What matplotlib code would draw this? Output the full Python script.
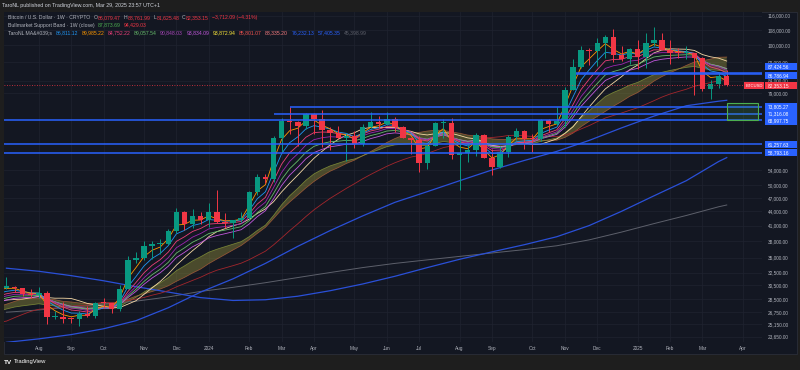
import numpy as np
import pandas as pd
import matplotlib
matplotlib.use("Agg")
import matplotlib.pyplot as plt
import matplotlib.dates as mdates
from matplotlib.patches import Rectangle
from matplotlib.ticker import NullLocator

plt.rcParams['font.family'] = ['Liberation Sans', 'DejaVu Sans']

# ============================================================
# DATA  (BTCUSD weekly candles)
# ============================================================
first_bar = "2023-07-10"

opens = [30170, 30230, 30080, 29200, 29050, 29300, 26050, 26100, 25850, 25830,
         26530, 26250, 27950, 27900, 27150, 30000, 34500, 35000, 37050, 37400,
         37450, 39950, 43800, 41400, 42950, 42200, 43950, 41750, 41550, 42050,
         42580, 48300, 52100, 51700, 63100, 68900, 68400, 67200, 71300, 69400,
         65700, 64950, 63100, 63900, 61500, 66900, 68500, 67750, 69650, 66650,
         63200, 62700, 55850, 60800, 68200, 68250, 58150, 58700, 59500, 64200,
         57300, 54900, 59100, 63550, 65600, 62900, 62850, 69000, 67900, 68750,
         80400, 89850, 97900, 97200, 101100, 104500, 95200, 93750, 98300, 94500,
         101300, 102650, 97700, 96450, 96150, 96250, 94200, 80700, 82600, 86079]
highs = [31800, 30350, 30100, 29950, 30250, 29650, 26800, 28150, 26100, 26900,
         27480, 28050, 28600, 28000, 30500, 35200, 35900, 38000, 37950, 38450,
         40250, 44700, 44000, 44400, 43800, 45900, 49000, 43550, 42250, 43850,
         48600, 52800, 52950, 64000, 70000, 73800, 68900, 71700, 71500, 72800,
         66900, 67200, 64700, 65500, 67700, 71950, 70650, 71950, 70150, 67200,
         63400, 63800, 61400, 68300, 69400, 70000, 62700, 61800, 64950, 64500,
         59800, 60700, 64200, 66500, 65650, 64400, 69400, 69500, 73600, 81500,
         93400, 99600, 98800, 104000, 105200, 108350, 99900, 98900, 102500, 106400,
         109500, 106500, 102500, 98800, 99500, 96500, 94400, 84100, 87500, 88762]
lows = [29950, 29500, 28900, 28600, 28700, 25200, 25800, 25350, 25350, 24900,
        26020, 26000, 27200, 26550, 26900, 29900, 34100, 34500, 34800, 35600,
        37200, 39500, 40200, 40500, 41300, 40750, 41500, 40500, 38500, 41800,
        42300, 47700, 50600, 50900, 59000, 64500, 60800, 66000, 64500, 60600,
        59700, 62800, 56500, 60200, 60800, 66600, 66600, 67600, 65000, 63400,
        58400, 53500, 54300, 60650, 63400, 57100, 49000, 56100, 57800, 57200,
        52550, 54600, 57600, 62700, 59800, 58900, 62450, 65100, 67500, 66800,
        80200, 89400, 90700, 90500, 94100, 92200, 92600, 91200, 89200, 89300,
        99600, 97800, 91200, 94100, 93400, 78200, 80000, 76600, 81200, 81625]
closes = [30230, 30080, 29200, 29050, 29300, 26050, 26100, 25850, 25830, 26530,
          26250, 27950, 27900, 27150, 30000, 34500, 35000, 37050, 37400, 37450,
          39950, 43800, 41400, 42950, 42200, 43950, 41750, 41550, 42050, 42580,
          48300, 52100, 51700, 63100, 68900, 68400, 67200, 71300, 69400, 65700,
          64950, 63100, 63900, 61500, 66900, 68500, 67750, 69650, 66650, 63200,
          62700, 55850, 60800, 68200, 68250, 58150, 58700, 59500, 64200, 57300,
          54900, 59100, 63550, 65600, 62900, 62850, 69000, 67900, 68750, 80400,
          89850, 97900, 97200, 101100, 104500, 95200, 93750, 98300, 94500, 101300,
          102650, 97700, 96450, 96150, 96250, 94200, 80700, 82600, 86080, 82353]

# weekly closes before the first visible bar (warm-up for the moving averages)
hist_close = [16840, 16540, 17130, 20880, 22710, 23770, 22930, 21780, 24640, 23560,
              22430, 22150, 28040, 27990, 28470, 28330, 30320, 27590, 29250, 28450,
              26930, 26750, 28070, 27230, 25840, 26340, 30480, 30590, 30170]

# long moving averages, read every 4th week off the chart
long_ma_bars = [0, 4, 8, 12, 16, 20, 24, 28, 32, 36, 40, 44, 48, 52, 56, 60,
                64, 68, 72, 76, 80, 84, 88, 89]
ma50w = [23000, 23400, 23900, 24600, 25600, 27300, 29500, 31500, 34000, 37000,
         40000, 43000, 46000, 48500, 51200, 54000, 56600, 59200, 62500, 66500,
         70500, 74200, 75900, 76232]
ma100w = [33200, 32700, 32000, 31200, 30300, 29500, 28700, 28300, 28400, 28900,
          29700, 30700, 31900, 33300, 34700, 36000, 37300, 38800, 41000, 44000,
          47500, 51200, 56300, 57405]
ma200w = [26700, 27000, 27400, 27800, 28200, 28800, 29600, 30200, 30900, 31700,
          32500, 33300, 34000, 34600, 35200, 35800, 36400, 37100, 38200, 39700,
          41400, 43100, 45000, 45399]

# drawn levels
levels = [87424.56, 86786.94, 73805.27, 71316.08, 68997.75, 61257.63, 58793.16]
level_from = ["2024-11-14", "2024-11-14", "2024-03-11", "2024-02-26", None, None, None]
zone_low, zone_high = 68997.75, 75100
zone_from, zone_to = "2025-03-24", "2025-04-20"
last_price = 82353.15

price_ticks = [116000, 108000, 100000, 92000, 84000, 79000, 54000, 50000, 47000,
               44000, 41000, 38000, 35000, 32500, 30500, 28500, 26750, 25150, 23650]
month_ticks = ["2023-08-07", "2023-09-04", "2023-10-02", "2023-11-06", "2023-12-04",
               "2024-01-01", "2024-02-05", "2024-03-04", "2024-04-01", "2024-05-06",
               "2024-06-03", "2024-07-01", "2024-08-05", "2024-09-02", "2024-10-07",
               "2024-11-04", "2024-12-02", "2025-01-06", "2025-02-03", "2025-03-03",
               "2025-04-07"]
month_labels = ["Aug", "Sep", "Oct", "Nov", "Dec", "2024", "Feb", "Mar", "Apr", "May",
                "Jun", "Jul", "Aug", "Sep", "Oct", "Nov", "Dec", "2025", "Feb", "Mar", "Apr"]

# ============================================================
# MOVING AVERAGES
# ============================================================
n_hist = len(hist_close)
all_close = pd.Series(hist_close + closes, dtype=float)
dates_all = pd.date_range(end=pd.Timestamp(first_bar), periods=n_hist + 1, freq="7D")[:-1]
dates_all = dates_all.append(pd.date_range(first_bar, periods=len(closes), freq="7D"))
xd_all = mdates.date2num(dates_all)
xd = xd_all[n_hist:]


def ma(kind, n):
    if kind == "sma":
        return all_close.rolling(n, min_periods=1).mean().values
    return all_close.ewm(span=n, adjust=False).mean().values


short_mas = [("sma", 30, "#a3262c"),
             ("sma", 12, "#f5d9a6"),
             ("ema", 13, "#c158dc"),
             ("ema", 11, "#66bb6a"),
             ("ema", 9, "#9c27b0"),
             ("ema", 7, "#ec407a"),
             ("ema", 5, "#2196f3"),
             ("ema", 3, "#ff9800")]

# ============================================================
# FIGURE
# ============================================================
W, H = 800, 370
BG = "#131722"
fig = plt.figure(figsize=(W / 100, H / 100), dpi=100, facecolor="#1e1e1e")
fig.patches.append(Rectangle((4 / W, 1 - 354 / H), 793 / W, 342 / H, transform=fig.transFigure,
                             facecolor=BG, edgecolor="#2a2e39", lw=0.6, zorder=-5))
ax = fig.add_axes([4 / W, 1 - 342 / H, 758 / W, 330 / H])
ax.set_facecolor(BG)
for s in ax.spines.values():
    s.set_visible(False)

ax.set_yscale("log")
ax.set_ylim(23040, 118028)
x_aug = mdates.date2num(pd.Timestamp("2023-08-07"))
px_day = 1.1562
ax.set_xlim(x_aug - 34.8 / px_day, x_aug + 723.2 / px_day)

# bull market support band
sma20 = ma("sma", 20)
ema21 = ma("ema", 21)
ax.fill_between(xd_all, sma20, ema21, color="#8e8a3a", alpha=0.45, lw=0, zorder=1)
ax.plot(xd_all, sma20, color="#b0603a", lw=0.55, alpha=0.8, zorder=1.5)
ax.plot(xd_all, ema21, color="#8a9a3a", lw=0.55, alpha=0.8, zorder=1.5)

# long MAs
xl = xd[long_ma_bars]
ax.plot(xl, ma200w, color="#5d606b", lw=0.7, zorder=2)
ax.plot(xl, ma100w, color="#2a50d8", lw=0.9, zorder=2)
ax.plot(xl, ma50w, color="#2a50d8", lw=0.9, zorder=2)

for kind, n, col in short_mas:
    ax.plot(xd_all, ma(kind, n), color=col, lw=0.6, zorder=2.5)

# candles
o = np.array(opens, float)
h = np.array(highs, float)
l = np.array(lows, float)
c = np.array(closes, float)
up = c >= o
cols = np.where(up, "#089981", "#f23645")
ax.vlines(xd, l, h, colors=cols, lw=0.7, zorder=3)
body = np.maximum(np.abs(c - o), np.minimum(o, c) * 0.006)
ax.bar(xd, body, bottom=np.minimum(o, c), width=4.7, color=cols, lw=0, zorder=3.5)

# levels
xmax = ax.get_xlim()[1]
for lv, fr in zip(levels, level_from):
    x0 = ax.get_xlim()[0] if fr is None else mdates.date2num(pd.Timestamp(fr))
    ax.hlines(lv, x0, xmax, color="#2962ff", lw=1.1, zorder=5)
ax.axhline(last_price, color="#f23645", lw=0.6, ls=(0, (1, 2)), zorder=4)
zx0 = mdates.date2num(pd.Timestamp(zone_from))
zx1 = mdates.date2num(pd.Timestamp(zone_to))
ax.add_patch(Rectangle((zx0, zone_low), zx1 - zx0, zone_high - zone_low,
                       facecolor=(0.3, 0.69, 0.31, 0.18), edgecolor="#4caf50", lw=0.8, zorder=5))

# axes / grid
ax.set_yticks(price_ticks)
ax.set_yticklabels([f"{v:,.2f}" for v in price_ticks])
ax.yaxis.set_minor_locator(NullLocator())
ax.yaxis.tick_right()
ax.tick_params(axis="y", length=0, pad=4.3, labelsize=3.4, labelcolor="#b2b5be")
ax.set_xticks(mdates.date2num(pd.to_datetime(month_ticks)))
ax.set_xticklabels(month_labels)
ax.tick_params(axis="x", length=0, pad=2.7, labelsize=3.4, labelcolor="#b2b5be")
ax.grid(True, color="#1f2330", lw=0.5, zorder=0)
ax.set_axisbelow(True)

# ============================================================
# TEXT
# ============================================================
renderer = fig.canvas.get_renderer()
GRAY = "#b2b5be"
RED = "#f23645"


def text_run(x, y, pieces, size=3.7):
    for s, col, gap in pieces:
        t = fig.text(x / W, 1 - y / H, s, color=col, fontsize=size, va="center", ha="left")
        x += t.get_window_extent(renderer).width + gap


fig.text(2 / W, 1 - 6 / H, "TaroNL published on TradingView.com, Mar 29, 2025 23:57 UTC+1",
         fontsize=3.75, color="#d1d4dc", va="center")
text_run(8, 17.5, [("Bitcoin / U.S. Dollar · 1W · CRYPTO", GRAY, 3.0),
                   ("O", GRAY, 0.3), ("86,079.47", RED, 3.0),
                   ("H", GRAY, 0.3), ("88,761.99", RED, 3.0),
                   ("L", GRAY, 0.3), ("81,625.48", RED, 3.0),
                   ("C", GRAY, 0.3), ("82,353.15", RED, 3.0),
                   ("−3,712.09 (−4.31%)", RED, 0)])
text_run(8, 25, [("Bullmarket Support Band · 1W (close)", GRAY, 3.0),
                 ("87,873.69", "#4caf50", 3.0), ("94,429.03", RED, 0)])
ma_vals = [("86,811.12", "#2196f3"), ("89,985.22", "#ff9800"), ("84,752.22", "#ec407a"),
           ("89,057.54", "#66bb6a"), ("90,848.03", "#ab47bc"), ("93,834.09", "#c158dc"),
           ("93,872.94", "#ffeb3b"), ("85,801.07", "#ef5350"), ("88,335.20", "#f77c80"),
           ("76,232.13", "#2962ff"), ("57,405.35", "#2962ff"), ("45,398.99", "#5d606b")]
text_run(8, 32.7, [("TaroNL MA&#039;s", GRAY, 3.4)] + [(v, col, 3.4) for v, col in ma_vals])

fig.text(4 / W, 1 - 362 / H, "TV", fontsize=4.6, color="white", weight="bold", va="center")
fig.text(14 / W, 1 - 362 / H, "TradingView", fontsize=4.2, color="white", va="center")

# price boxes on the scale
boxes = [(87424.56, "87,424.56", "#2962ff", 6.0),
         (86786.94, "86,786.94", "#2962ff", -1.5),
         (last_price, "82,353.15", RED, -1.0),
         (73805.27, "73,805.27", "#2962ff", 0.3),
         (71316.08, "71,316.08", "#2962ff", 0.0),
         (68997.75, "68,997.75", "#2962ff", -0.5),
         (61257.63, "61,257.63", "#2962ff", 0.0),
         (58793.16, "58,793.16", "#2962ff", 0.0)]
bh = 7.4
for p, s, col, off in boxes:
    yc = ax.transData.transform((ax.get_xlim()[0], p))[1] + off
    fig.patches.append(Rectangle((765 / W, (yc - bh / 2) / H), 32 / W, bh / H,
                                 transform=fig.transFigure, facecolor=col, lw=0, zorder=4))
    fig.text(767.5 / W, yc / H, s, fontsize=3.4, color="white", va="center", zorder=6)
    if s == "82,353.15":
        fig.patches.append(Rectangle((744 / W, (yc - bh / 2) / H), 19.5 / W, bh / H,
                                     transform=fig.transFigure, facecolor=col, lw=0, zorder=4))
        fig.text(745.5 / W, yc / H, "BTCUSD", fontsize=3.0, color="white", va="center", zorder=6)

fig.savefig("out.png", dpi=100, facecolor=fig.get_facecolor())
